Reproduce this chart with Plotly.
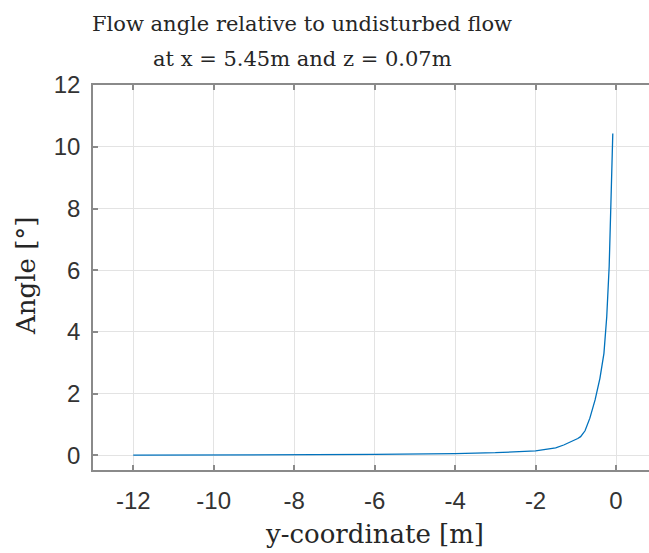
import plotly.graph_objects as go

# Data
y_coord = [-12, -10, -8, -6, -4, -3, -2, -1.75, -1.5, -1.3, -1.1, -0.95, -0.88,
           -0.77, -0.65, -0.52, -0.40, -0.30, -0.23, -0.17, -0.12, -0.08]
angle = [0.01, 0.015, 0.02, 0.035, 0.06, 0.09, 0.15, 0.2, 0.25, 0.34, 0.45, 0.55, 0.61,
         0.80, 1.21, 1.80, 2.50, 3.31, 4.5, 6.12, 8.49, 10.43]

x_ticks = [-12, -10, -8, -6, -4, -2, 0]
y_ticks = [0, 2, 4, 6, 8, 10, 12]

title_lines = ["Flow angle relative to undisturbed flow", "at x = 5.45m and z = 0.07m"]
x_label = "y-coordinate [m]"
y_label = "Angle [°]"

W, H = 649, 553
L, R, T, B = 93, 0, 85, 83
pw, ph = W - L - R, H - T - B

def px_x(px):
    return (px - L) / pw

def px_y(py):
    return (H - B - py) / ph

serif = "DejaVu Serif"
sans = "Liberation Sans, Arial, sans-serif"

fig = go.Figure()
fig.add_trace(go.Scatter(x=y_coord, y=angle, mode="lines",
                         line=dict(color="#0072BD", width=1.3), showlegend=False))

axis_common = dict(
    showgrid=True, gridcolor="#e3e3e3", gridwidth=1,
    zeroline=False, showline=True, linecolor="#8a8a8a", linewidth=1.5,
    ticks="inside", ticklen=5, tickcolor="#8a8a8a", tickwidth=1.5,
    tickfont=dict(family=sans, size=24, color="#333333"),
)

fig.update_xaxes(range=[-13, 0.82], tickvals=x_ticks, ticktext=[str(v) for v in x_ticks],
                 mirror="ticks", ticklabelstandoff=8, **axis_common)
fig.update_yaxes(range=[-0.47, 12], tickvals=y_ticks, ticktext=[str(v) for v in y_ticks],
                 mirror=False, ticklabelstandoff=6, **axis_common)

annotations = [
    dict(text=title_lines[0], x=px_x(302), y=px_y(24), size=21),
    dict(text=title_lines[1], x=px_x(302), y=px_y(59), size=21),
    dict(text=x_label, x=px_x(374), y=px_y(534), size=26),
    dict(text=y_label, x=px_x(26), y=px_y(276), size=26, textangle=-90),
]
for a in annotations:
    size = a.pop("size")
    fig.add_annotation(xref="paper", yref="paper", showarrow=False,
                       xanchor="center", yanchor="middle",
                       font=dict(family=serif, size=size, color="#262626"), **a)

fig.update_layout(
    width=W, height=H,
    margin=dict(l=L, r=R, t=T, b=B),
    paper_bgcolor="white", plot_bgcolor="white",
)

fig.write_html("out.html")
